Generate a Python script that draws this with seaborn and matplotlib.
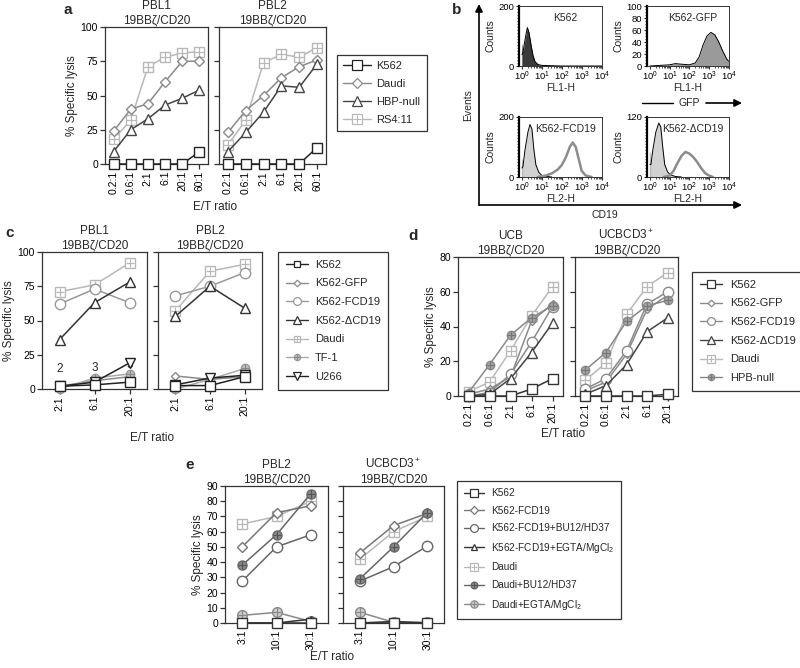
import numpy as np
import matplotlib
matplotlib.use('Agg')
import matplotlib.pyplot as plt
import seaborn as sns
from matplotlib.lines import Line2D

sns.set_style('ticks')
plt.rcParams['font.family'] = ['Liberation Sans', 'DejaVu Sans']
plt.rcParams['mathtext.fontset'] = 'custom'
plt.rcParams['mathtext.rm'] = 'Liberation Sans'
plt.rcParams['mathtext.it'] = 'Liberation Sans:italic'
plt.rcParams['font.size'] = 8
plt.rcParams['axes.edgecolor'] = '#333333'
plt.rcParams['axes.linewidth'] = 0.9
plt.rcParams['xtick.color'] = '#333333'
plt.rcParams['ytick.color'] = '#333333'
plt.rcParams['xtick.labelcolor'] = 'black'
plt.rcParams['ytick.labelcolor'] = 'black'

# ---------------- data ----------------
# panel a
ratios_a = ['0.2:1', '0.6:1', '2:1', '6:1', '20:1', '60:1']
targets_a = ['K562', 'Daudi', 'HBP-null', 'RS4:11']
a_pbl1 = [[0, 0, 0, 0, 0, 9],
          [24, 40, 44, 60, 75, 75],
          [9, 25, 33, 43, 48, 54],
          [18, 32, 71, 78, 81, 82]]
a_pbl2 = [[0, 0, 0, 0, 0, 12],
          [23, 39, 50, 63, 71, 76],
          [9, 23, 38, 57, 56, 73],
          [14, 32, 74, 80, 78, 85]]

# panel c
ratios_c = ['2:1', '6:1', '20:1']
targets_c = ['K562', 'K562-GFP', 'K562-FCD19', 'K562-ΔCD19', 'Daudi', 'TF-1', 'U266']
c_pbl1 = [[2, 3, 5],
          [2, 6, 9],
          [62, 73, 63],
          [36, 63, 78],
          [71, 76, 92],
          [0, 8, 11],
          [2, 5, 19]]
c_pbl2 = [[2.5, 2.5, 9],
          [9.5, 7, 9],
          [68, 75, 85],
          [53, 75, 59],
          [57, 86, 91],
          [0, 7, 15],
          [3, 8, 10]]

# panel d
ratios_d = ['0.2:1', '0.6:1', '2:1', '6:1', '20:1']
targets_d = ['K562', 'K562-GFP', 'K562-FCD19', 'K562-ΔCD19', 'Daudi', 'HPB-null']
d_ucb = [[0, 0, 0, 4, 10],
         [1, 4, 11, 43, 53],
         [0, 2, 12.5, 31, 51.5],
         [0, 1, 10, 25, 42],
         [2.5, 8, 26, 46, 63],
         [2, 18, 35, 45, 52]]
d_ucbcd3 = [[0, 0, 0, 0, 1],
            [3, 8, 24, 50, 58],
            [4, 10, 26, 53, 60],
            [1, 6, 18, 37, 45],
            [9, 19, 47, 63, 71],
            [15, 25, 43, 52, 55]]

# panel e
ratios_e = ['3:1', '10:1', '30:1']
targets_e = ['K562', 'K562-FCD19', 'K562-FCD19+BU12/HD37', 'K562-FCD19+EGTA/MgCl$_2$',
             'Daudi', 'Daudi+BU12/HD37', 'Daudi+EGTA/MgCl$_2$']
e_pbl2 = [[0, 0, 0],
          [50, 72.5, 77],
          [27.5, 50, 58],
          [0, 0, 2.5],
          [65, 70, 80],
          [38, 58, 85],
          [5, 7, 1]]
e_ucbcd3 = [[0, 0, 0],
            [46, 64, 72],
            [27.5, 37, 50.5],
            [0, 1, 0],
            [42, 60, 70],
            [29, 50, 72.5],
            [7, 0.5, 0.5]]

# panel b histograms (x in log10 units)
k562_x = [0, 0.0, 0.05, 0.12, 0.2, 0.27, 0.35, 0.45, 0.55, 0.65, 0.8, 1.0, 1.5, 2.0, 4.0]
k562_y = [0, 75, 45, 75, 105, 128, 112, 72, 36, 15, 5, 2, 1, 0, 0]
gfp_x = [0, 0.5, 1.0, 1.3, 1.6, 2.0, 2.3, 2.5, 2.7, 2.9, 3.1, 3.3, 3.5, 3.7, 3.9, 4.0]
gfp_y = [0, 1, 2, 4, 3, 2, 5, 15, 35, 50, 56, 52, 40, 25, 12, 8]
fcd19_neg_x = [0, 0.0, 0.05, 0.15, 0.3, 0.4, 0.5, 0.6, 0.7, 0.85, 1.0, 1.2, 1.5]
fcd19_neg_y = [0, 60, 35, 90, 150, 175, 160, 90, 40, 15, 5, 2, 0]
fcd19_pos_x = [0.8, 1.2, 1.5, 1.8, 2.0, 2.2, 2.4, 2.55, 2.7, 2.85, 3.0, 3.2, 3.5]
fcd19_pos_y = [0, 5, 12, 25, 40, 65, 100, 115, 100, 60, 20, 5, 0]
dcd19_neg_x = [0, 0.0, 0.05, 0.15, 0.3, 0.45, 0.55, 0.65, 0.75, 0.9, 1.05, 1.3, 1.6]
dcd19_neg_y = [0, 50, 25, 55, 90, 108, 100, 60, 25, 10, 4, 1, 0]
dcd19_pos_x = [0.7, 1.0, 1.2, 1.4, 1.6, 1.8, 2.0, 2.2, 2.4, 2.6, 2.8, 3.0, 3.2]
dcd19_pos_y = [0, 3, 12, 28, 42, 50, 47, 40, 30, 18, 8, 3, 0]

# ---------------- layout helpers ----------------
W, H = 800, 668
fig = plt.figure(figsize=(8, 6.68), dpi=100)


def rect(l, t, r, b):
    return [l / W, 1 - b / H, (r - l) / W, (b - t) / H]


def st(c, m, ms, fc='white', ec=None, plus=None, z=3):
    return dict(c=c, m=m, ms=ms, fc=fc, ec=ec or c, plus=plus, z=z)


def draw_series(ax, values, names, styles):
    x = np.arange(len(values[0]))
    for vals, name in zip(values, names):
        s = styles[name]
        sns.lineplot(x=x, y=vals, ax=ax, color=s['c'], lw=1.1, marker=s['m'],
                     markersize=s['ms'], markerfacecolor=s['fc'],
                     markeredgecolor=s['ec'], markeredgewidth=1.0,
                     clip_on=False, zorder=s['z'], legend=False)
        if s['plus']:
            sns.lineplot(x=x, y=vals, ax=ax, lw=0, marker='+', markersize=s['ms'] * 0.95,
                         markeredgecolor=s['plus'], markeredgewidth=0.9,
                         clip_on=False, zorder=s['z'] + 0.1, legend=False)


def style_axes(ax, ratios, ylim, yticks, title, first):
    ax.set_xlim(-0.5, len(ratios) - 0.5)
    ax.set_ylim(*ylim)
    ax.set_yticks(yticks)
    ax.set_xticks(np.arange(len(ratios)))
    ax.set_xticklabels(ratios, rotation=90, fontsize=7.5)
    ax.tick_params(axis='both', length=3.5, width=0.9, labelsize=7.5, pad=1.5)
    ax.set_title(title, fontsize=8.5, pad=3, linespacing=1.15)
    ax.set_xlabel('')
    if first:
        ax.set_ylabel('% Specific lysis', fontsize=8.5, labelpad=2)
    else:
        ax.tick_params(labelleft=False)
        ax.set_ylabel('')


def legend_handles(names, styles, ms_scale=0.75):
    hs = []
    for name in names:
        s = styles[name]
        base = Line2D([], [], color=s['c'], lw=1.0, marker=s['m'], ms=s['ms'] * ms_scale,
                      mfc=s['fc'], mec=s['ec'], mew=0.9)
        if s['plus']:
            p = Line2D([], [], lw=0, marker='+', ms=s['ms'] * ms_scale * 0.95,
                       mec=s['plus'], mew=0.8)
            hs.append((base, p))
        else:
            hs.append(base)
    return hs


def add_legend(names, styles, l, t, spacing, hlen, fs=8, ms_scale=0.75, pad=0.7, tpad=0.7):
    leg = fig.legend(legend_handles(names, styles, ms_scale), names, loc='upper left',
                     bbox_to_anchor=(l / W, 1 - t / H), frameon=True, fancybox=False,
                     edgecolor='#333333', framealpha=1, fontsize=fs,
                     labelspacing=spacing, handlelength=hlen, handletextpad=tpad,
                     borderpad=pad, borderaxespad=0)
    leg.get_frame().set_linewidth(0.9)
    return leg


# ---------------- panel a ----------------
sty_a = {'K562': st('#222222', 's', 7, z=5),
         'Daudi': st('#8a8a8a', 'D', 5.5),
         'HBP-null': st('#454545', '^', 7),
         'RS4:11': st('#b8b8b8', 's', 7, plus='#b8b8b8', z=2)}
ax = fig.add_axes(rect(105, 27, 208, 164))
draw_series(ax, a_pbl1, targets_a, sty_a)
style_axes(ax, ratios_a, (0, 100), [0, 25, 50, 75, 100], 'PBL1\n19BBζ/CD20', True)
ax = fig.add_axes(rect(219, 27, 326, 164))
draw_series(ax, a_pbl2, targets_a, sty_a)
style_axes(ax, ratios_a, (0, 100), [0, 25, 50, 75, 100], 'PBL2\n19BBζ/CD20', False)
add_legend(targets_a, sty_a, 337, 55, 0.72, 2.5, fs=8, ms_scale=0.95, pad=0.55, tpad=0.5)

# ---------------- panel c ----------------
sty_c = {'K562': st('#222222', 's', 6.5, z=5),
         'K562-GFP': st('#8a8a8a', 'D', 4.5),
         'K562-FCD19': st('#999999', 'o', 7.5),
         'K562-ΔCD19': st('#333333', '^', 7),
         'Daudi': st('#b8b8b8', 's', 6.5, plus='#b8b8b8', z=2),
         'TF-1': st('#aaaaaa', 'o', 6, fc='#c4c4c4', ec='#999999', plus='#888888'),
         'U266': st('#222222', 'v', 7, z=4)}
ax = fig.add_axes(rect(42, 252, 147, 389))
draw_series(ax, c_pbl1, targets_c, sty_c)
style_axes(ax, ratios_c, (0, 100), [0, 25, 50, 75, 100], 'PBL1\n19BBζ/CD20', True)
for i, v in enumerate(c_pbl1[0]):
    ax.annotate(f'{v:g}', (i, v), xytext=(0, 8), textcoords='offset points',
                ha='center', va='bottom', fontsize=8.5, zorder=2.5)
ax = fig.add_axes(rect(158, 252, 262, 389))
draw_series(ax, c_pbl2, targets_c, sty_c)
style_axes(ax, ratios_c, (0, 100), [0, 25, 50, 75, 100], 'PBL2\n19BBζ/CD20', False)
add_legend(targets_c, sty_c, 278, 252, 0.78, 2.0, tpad=0.6)

# ---------------- panel d ----------------
sty_d = {'K562': st('#333333', 's', 7, z=5),
         'K562-GFP': st('#8a8a8a', 'D', 4.5),
         'K562-FCD19': st('#8a8a8a', 'o', 7.5),
         'K562-ΔCD19': st('#444444', '^', 7),
         'Daudi': st('#b8b8b8', 's', 7, plus='#b8b8b8', z=2),
         'HPB-null': st('#888888', 'o', 6, fc='#a8a8a8', ec='#888888', plus='#777777')}
ax = fig.add_axes(rect(458, 257, 563, 396))
draw_series(ax, d_ucb, targets_d, sty_d)
style_axes(ax, ratios_d, (0, 80), [0, 20, 40, 60, 80], 'UCB\n19BBζ/CD20', True)
ax = fig.add_axes(rect(575, 257, 678, 396))
draw_series(ax, d_ucbcd3, targets_d, sty_d)
style_axes(ax, ratios_d, (0, 80), [0, 20, 40, 60, 80], 'UCBCD3$^+$\n19BBζ/CD20', False)
add_legend(targets_d, sty_d, 692, 272, 0.78, 2.0)

# ---------------- panel e ----------------
sty_e = {'K562': st('#333333', 's', 7, z=5),
         'K562-FCD19': st('#777777', 'D', 5),
         'K562-FCD19+BU12/HD37': st('#666666', 'o', 7.5),
         'K562-FCD19+EGTA/MgCl$_2$': st('#333333', '^', 5, z=4),
         'Daudi': st('#b8b8b8', 's', 7, plus='#b8b8b8', z=2),
         'Daudi+BU12/HD37': st('#666666', 'o', 6.5, fc='#8c8c8c', ec='#666666', plus='#555555'),
         'Daudi+EGTA/MgCl$_2$': st('#8a8a8a', 'o', 7, fc='#cfcfcf', ec='#8a8a8a', plus='#8a8a8a')}
ax = fig.add_axes(rect(225, 486, 328, 623))
draw_series(ax, e_pbl2, targets_e, sty_e)
style_axes(ax, ratios_e, (0, 90), list(range(0, 91, 10)), 'PBL2\n19BBζ/CD20', True)
ax = fig.add_axes(rect(343, 486, 444, 623))
draw_series(ax, e_ucbcd3, targets_e, sty_e)
style_axes(ax, ratios_e, (0, 90), list(range(0, 91, 10)), 'UCBCD3$^+$\n19BBζ/CD20', False)
add_legend(targets_e, sty_e, 457, 481, 0.76, 2.0, fs=7.2)

# ---------------- panel b ----------------
decade_labels = [f'$10^{k}$' for k in range(5)]


def flow_axes(l, t, r, b, ymax, yticks, name, xlabel):
    ax = fig.add_axes(rect(l, t, r, b))
    ax.set_xlim(-0.15, 4.02)
    ax.set_ylim(0, ymax)
    ax.set_xticks(range(5))
    ax.set_xticklabels(decade_labels, fontsize=6.8)
    ax.set_xticks([k + np.log10(m) for k in range(4) for m in range(2, 10)], minor=True)
    ax.set_yticks(yticks)
    ax.set_yticks(np.arange(0, ymax + 0.1, ymax / 20), minor=True)
    ax.tick_params(axis='both', which='major', length=2.5, width=0.8, labelsize=6.8, pad=1)
    ax.tick_params(axis='x', which='major', pad=0.5)
    ax.tick_params(axis='both', which='minor', length=1.5, width=0.6)
    ax.spines['left'].set_linewidth(1.6)
    ax.spines['left'].set_color('black')
    for sp in ['top', 'right', 'bottom']:
        ax.spines[sp].set_linewidth(0.7)
    ax.set_ylabel('Counts', fontsize=7.5, labelpad=2)
    ax.set_xlabel(xlabel, fontsize=7.5, labelpad=-0.5)
    ax.text(0.56, 0.8, name, transform=ax.transAxes, ha='center', va='center', fontsize=7.5)
    return ax


ax = flow_axes(519, 6, 602, 66, 200, [0, 200], 'K562', 'FL1-H')
ax.fill_between(k562_x, k562_y, color='#3a3a3a', lw=0)
sns.lineplot(x=k562_x, y=k562_y, ax=ax, color='black', lw=0.7, sort=False)

ax = flow_axes(647, 6, 729, 66, 100, [0, 20, 40, 60, 80, 100], 'K562-GFP', 'FL1-H')
ax.fill_between(gfp_x, gfp_y, color='#9a9a9a', lw=0)
sns.lineplot(x=gfp_x, y=gfp_y, ax=ax, color='black', lw=0.7, sort=False)

ax = flow_axes(519, 117, 602, 177, 200, [0, 200], 'K562-FCD19', 'FL2-H')
ax.fill_between(fcd19_neg_x, fcd19_neg_y, color='#d2d2d2', lw=0)
sns.lineplot(x=fcd19_neg_x, y=fcd19_neg_y, ax=ax, color='black', lw=0.7, sort=False)
sns.lineplot(x=fcd19_pos_x, y=fcd19_pos_y, ax=ax, color='#8c8c8c', lw=1.8, sort=False)

ax = flow_axes(647, 117, 729, 177, 120, [0, 120], 'K562-ΔCD19', 'FL2-H')
ax.fill_between(dcd19_neg_x, dcd19_neg_y, color='#d2d2d2', lw=0)
sns.lineplot(x=dcd19_neg_x, y=dcd19_neg_y, ax=ax, color='black', lw=0.7, sort=False)
sns.lineplot(x=dcd19_pos_x, y=dcd19_pos_y, ax=ax, color='#8c8c8c', lw=1.8, sort=False)

# ---------------- overlay: letters, shared labels, arrows ----------------
ov = fig.add_axes([0, 0, 1, 1], zorder=10)
ov.set_xlim(0, W)
ov.set_ylim(H, 0)
ov.axis('off')
ov.patch.set_visible(False)

for letter, (x, y) in zip('abcde', [(63, 10), (452, 10), (5, 233), (408, 236), (185, 465)]):
    ov.text(x, y, letter, fontsize=11, fontweight='bold', ha='left', va='center')

for x, y in [(215, 207), (152, 438), (563, 434), (332, 657)]:
    ov.text(x, y, 'E/T ratio', fontsize=8.5, ha='center', va='center')

arrow = dict(arrowstyle='-|>', color='black', lw=1.2, mutation_scale=11, shrinkA=0, shrinkB=0)
ov.annotate('', xy=(479, 4), xytext=(479, 205), arrowprops=arrow)
ov.annotate('', xy=(742, 205), xytext=(479, 205), arrowprops=arrow)
ov.annotate('', xy=(742, 103), xytext=(706, 103), arrowprops=arrow)
ov.plot([642, 673], [103, 103], color='black', lw=1.0)
ov.text(689, 103, 'GFP', fontsize=7.5, ha='center', va='center')
ov.text(468, 105, 'Events', fontsize=7.5, rotation=90, ha='center', va='center')
ov.text(605, 215, 'CD19', fontsize=7.5, ha='center', va='center')

fig.savefig('out.png', dpi=100)
